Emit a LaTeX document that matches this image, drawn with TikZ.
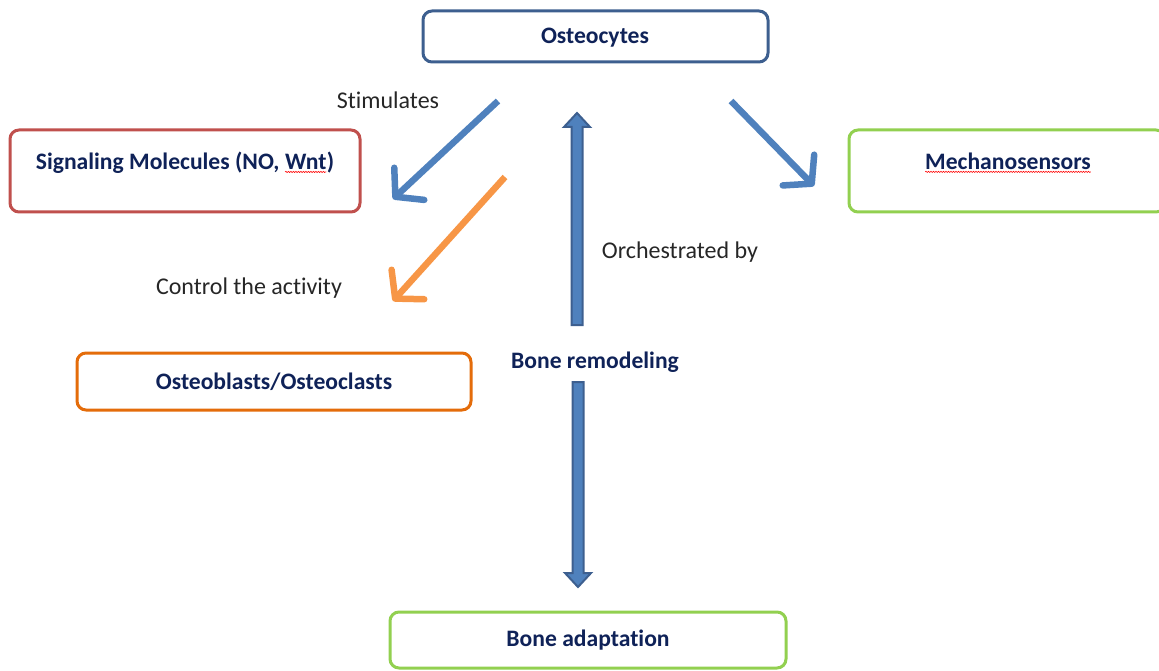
\documentclass[tikz,border=0pt]{standalone}
\usepackage{fontspec}
\setmainfont{Carlito}[Ligatures=NoCommon]
\usetikzlibrary{arrows.meta,calc,decorations.pathmorphing}
\definecolor{navy}{HTML}{0F2258}
\definecolor{txt}{HTML}{262626}
\definecolor{bblue}{HTML}{3D5F8F}
\definecolor{bred}{HTML}{C0504D}
\definecolor{bgreen}{HTML}{92D050}
\definecolor{borange}{HTML}{E46C0A}
\definecolor{ablue}{HTML}{4F81BD}
\definecolor{aorange}{HTML}{F79646}
\newcommand\spellerr[1]{\tikz[baseline=(t.base)]{\node[inner sep=0pt,outer sep=0pt](t){#1};\draw[red,line width=0.6pt,decorate,decoration={snake,amplitude=0.6pt,segment length=2.5pt}] ([yshift=-2pt]t.south west) -- ([yshift=-2pt]t.south east);}}
\tikzset{
  box/.style={draw, line width=3pt, rounded corners=9pt, fill=white},
  lbl/.style={font=\bfseries\fontsize{23.6}{26}\selectfont, text=navy, inner sep=0pt},
  plain/.style={font=\fontsize{24}{27}\selectfont, text=txt, inner sep=0pt},
  diag/.style={line width=6.5pt, -{Straight Barb[length=19pt,width=44pt,round]}},
  blockarrow/.style={fill=ablue, draw=bblue, line width=2pt, line join=miter}
}
\begin{document}
\begin{tikzpicture}[x=1pt,y=-1pt]
\useasboundingbox (0,0) rectangle (1159,671);
% boxes
\draw[box, draw=bblue] (423,11) rectangle (768,62);
\node[lbl] (ost) at (595,38) {Osteocytes};
\draw[box, draw=bred] (10,130) rectangle (360,212);
\node[lbl] (sig) at (185,163) {Signaling Molecules (NO, \spellerr{Wnt})};
\draw[box, draw=bgreen] (849,130) rectangle (1165,212);
\node[lbl] (mech) at (1008,163) {\spellerr{Mechanosensors}};
\draw[box, draw=borange] (77,353) rectangle (471,410);
\node[lbl] (obl) at (274,382) {Osteoblasts/Osteoclasts};
\draw[box, draw=bgreen] (390,612) rectangle (786,668);
\node[lbl] (ada) at (588,640) {Bone adaptation};
\node[lbl] (rem) at (595,362) {Bone remodeling};
% plain labels
\node[plain] (stim) at (388,100) {Stimulates};
\node[plain] (ctrl) at (249,288) {Control the activity};
\node[plain] (orch) at (680,252) {Orchestrated by};
% diagonal arrows
\coordinate (a1s) at (498,101); \coordinate (a1e) at (393,199);
\coordinate (a2s) at (505,177); \coordinate (a2e) at (393,301);
\coordinate (a3s) at (731,101); \coordinate (a3e) at (814,186);
\draw[diag, draw=ablue] (a1s) -- (a1e);
\draw[diag, draw=aorange] (a2s) -- (a2e);
\draw[diag, draw=ablue] (a3s) -- (a3e);
% block arrows
\coordinate (upS) at (577,325); \coordinate (upE) at (577,113);
\draw[blockarrow] ($(upS)+(-5.5,0)$) -- ($(upE)+(-5.5,14)$) -- ($(upE)+(-13,14)$) -- (upE) -- ($(upE)+(13,14)$) -- ($(upE)+(5.5,14)$) -- ($(upS)+(5.5,0)$) -- cycle;
\coordinate (dnS) at (578,382); \coordinate (dnE) at (578,587);
\draw[blockarrow] ($(dnS)+(-5.5,0)$) -- ($(dnE)+(-5.5,-14)$) -- ($(dnE)+(-13,-14)$) -- (dnE) -- ($(dnE)+(13,-14)$) -- ($(dnE)+(5.5,-14)$) -- ($(dnS)+(5.5,0)$) -- cycle;
\end{tikzpicture}
\end{document}
